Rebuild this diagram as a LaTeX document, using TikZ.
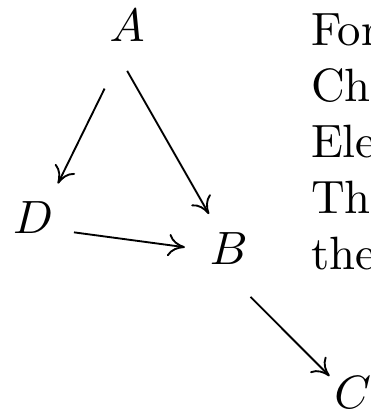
\documentclass[tikz,border=0pt]{standalone}
\usepackage{amsmath}
\usetikzlibrary{arrows.meta}
\begin{document}
\begin{tikzpicture}[
  lbl/.style={inner sep=0pt, anchor=base},
  txt/.style={inner sep=0pt, anchor=north west, align=left},
  edg/.style={-{To[length=3.6pt, width=4.8pt]}}
]
\useasboundingbox (0,0) rectangle (2.784,-3.100);
\clip (0,0) rectangle (2.784,-3.100);

\node[lbl] (A) at (0.956,-0.316) {$A$};
\node[lbl] (D) at (0.250,-1.757) {$D$};
\node[lbl] (B) at (1.722,-1.993) {$B$};
\node[lbl] (C) at (2.654,-3.072) {$C$};
\node[txt] (T) at (2.334,-0.097) {For\\Ch\\Ele\\Th\\the};

\draw[edg, shorten <=10.9pt, shorten >=8.1pt] (A.south) -- ([xshift=1.7pt]D.center);
\draw[edg, shorten <=6.9pt, shorten >=8.6pt] ([xshift=-3.4pt]A.south) -- (B.center);
\draw[edg, shorten <=8.8pt, shorten >=9.5pt] ([yshift=-2pt]D.center) -- ([yshift=-0.9pt]B.center);
\draw[edg, shorten <=9.4pt, shorten >=4.9pt] ([xshift=-2pt]B.south) -- ([xshift=-1.5pt]C.center);

\end{tikzpicture}
\end{document}
